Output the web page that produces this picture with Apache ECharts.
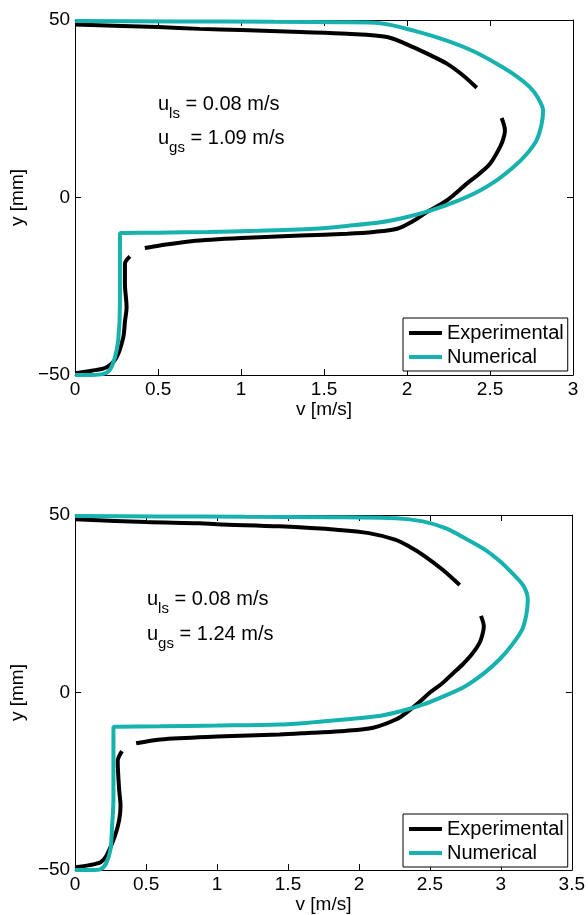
<!DOCTYPE html>
<html>
<head>
<meta charset="utf-8">
<script src="https://cdn.jsdelivr.net/npm/echarts@6/dist/echarts.min.js"></script>
<style>
  html, body { margin: 0; padding: 0; background: #fff; }
  #main { width: 588px; height: 915px; }
</style>
</head>
<body>
<div id="main"></div>
<script>
// top panel: u_gs = 1.09 m/s
var numTopV = [0, 0.10, 0.17, 0.21, 0.24, 0.26, 0.27, 0.27, 0.27, 0.27, 0.29, 0.5, 0.8, 1.1, 1.44, 1.64, 1.84, 2.0, 2.14, 2.30, 2.44, 2.55, 2.64, 2.72, 2.78, 2.81, 2.82, 2.79, 2.74, 2.65, 2.54, 2.40, 2.24, 2.04, 1.84, 1.6, 1.2, 0.6, 0];
var numTopY = [-50, -50, -49.7, -48.5, -45, -40, -30, -20, -11, -10, -10, -9.9, -9.7, -9.4, -8.8, -8.0, -7.0, -5.5, -3.7, -1.0, 2.0, 5.2, 8.5, 12.2, 16.1, 20.5, 24.5, 28, 31.1, 34.5, 37.7, 41.2, 44.2, 47.0, 49.1, 49.4, 49.5, 49.6, 49.7];

var expTopUpperV = [0, 0.5, 0.75, 1.0, 1.36, 1.64, 1.88, 2.04, 2.14, 2.24, 2.34, 2.42];
var expTopUpperY = [48.7, 48.0, 47.5, 47.2, 46.6, 46.1, 45.2, 42.3, 40.1, 37.7, 34.3, 30.9];
var expTopRightV = [2.57, 2.59, 2.58, 2.56, 2.50, 2.43, 2.36, 2.24, 2.12, 2.03, 1.94, 1.80, 1.64, 1.36, 1.0, 0.7, 0.51, 0.42];
var expTopRightY = [22.4, 18.9, 16.5, 14.2, 9.5, 6.5, 3.9, -0.8, -4.1, -6.8, -8.8, -9.7, -10.2, -10.7, -11.4, -12.3, -13.5, -14.2];
var expTopLowerV = [0.33, 0.30, 0.30, 0.31, 0.30, 0.29, 0.25, 0.19, 0.1, 0];
var expTopLowerY = [-16.6, -18.7, -24.3, -30.9, -35, -39.4, -45.0, -47.8, -48.8, -49.5];

// bottom panel: u_gs = 1.24 m/s
var numBotV = [0, 0.10, 0.18, 0.22, 0.25, 0.26, 0.27, 0.27, 0.27, 0.27, 0.29, 0.6, 1.0, 1.44, 1.67, 1.9, 2.14, 2.30, 2.45, 2.60, 2.75, 2.88, 2.99, 3.08, 3.15, 3.18, 3.19, 3.16, 3.08, 2.99, 2.89, 2.75, 2.61, 2.45, 2.26, 1.8, 1.2, 0.6, 0];
var numBotY = [-50, -50, -49.7, -48, -44, -38, -30, -20, -10.6, -9.6, -9.6, -9.5, -9.3, -9.0, -8.4, -7.6, -6.6, -5.2, -3.4, -1.0, 1.8, 5.4, 9.3, 13.5, 17.7, 22, 26.1, 30, 33.6, 37.1, 40.2, 43.4, 46.3, 48.2, 49.1, 49.4, 49.5, 49.6, 49.7];

var expBotUpperV = [0, 0.5, 0.88, 1.0, 1.44, 1.86, 2.07, 2.26, 2.36, 2.45, 2.59, 2.71];
var expBotUpperY = [48.8, 48.0, 47.7, 47.4, 46.8, 45.8, 44.9, 43.0, 41.0, 38.8, 34.6, 30.3];
var expBotRightV = [2.86, 2.88, 2.87, 2.85, 2.80, 2.73, 2.66, 2.59, 2.50, 2.42, 2.34, 2.26, 2.10, 1.90, 1.67, 1.44, 1.0, 0.60, 0.43];
var expBotRightY = [21.6, 18.6, 16.3, 14.0, 11.0, 7.9, 5.3, 2.7, 0, -2.9, -5.5, -7.6, -9.9, -10.8, -11.3, -11.8, -12.4, -13.2, -14.3];
var expBotLowerV = [0.33, 0.30, 0.31, 0.32, 0.31, 0.28, 0.22, 0.18, 0.1, 0];
var expBotLowerY = [-16.5, -19.3, -27.2, -31.9, -36, -40.4, -46, -47.8, -48.6, -49.2];

var xMaxTop = 3, xMaxBot = 3.5;
var yTicks = [-50, 0, 50];
var topLabels = ['u', 'ls', ' = 0.08 m/s', 'u', 'gs', ' = 1.09 m/s'];
var botLabels = ['u', 'ls', ' = 0.08 m/s', 'u', 'gs', ' = 1.24 m/s'];

var FONT = '"Liberation Sans", Arial, Helvetica, sans-serif';
var TEAL = '#17b1ae';

function pairs(xs, ys) {
  return xs.map(function (x, i) { return [x, ys[i]]; });
}
function minusFmt(v) { return String(v).replace('-', '\u2212'); }

function xAx(gi, max, top) {
  return {
    type: 'value', gridIndex: gi, min: 0, max: max, interval: 0.5,
    position: top ? 'top' : 'bottom',
    name: top ? '' : 'v [m/s]', nameLocation: 'middle', nameGap: 22,
    nameTextStyle: { fontFamily: FONT, fontSize: 19, color: '#000' },
    axisLine: { show: true, onZero: false, lineStyle: { color: '#000', width: 1 } },
    axisTick: { show: true, inside: true, length: 6, lineStyle: { color: '#000' } },
    axisLabel: { show: !top, margin: 5, fontFamily: FONT, fontSize: 19, color: '#000', formatter: minusFmt },
    splitLine: { show: false }
  };
}
function yAx(gi, right) {
  return {
    type: 'value', gridIndex: gi, min: yTicks[0], max: yTicks[2], interval: 50,
    position: right ? 'right' : 'left',
    name: right ? '' : 'y [mm]', nameLocation: 'middle', nameGap: 35, nameRotate: 90,
    nameTextStyle: { fontFamily: FONT, fontSize: 19, color: '#000' },
    axisLine: { show: true, onZero: false, lineStyle: { color: '#000', width: 1 } },
    axisTick: { show: true, inside: true, length: 6, lineStyle: { color: '#000' } },
    axisLabel: { show: !right, margin: 5, fontFamily: FONT, fontSize: 19, color: '#000', formatter: minusFmt },
    splitLine: { show: false }
  };
}
function line(name, data, xi, yi, color) {
  return {
    name: name, type: 'line', data: data, xAxisIndex: xi, yAxisIndex: yi,
    showSymbol: false, symbol: 'none', color: color, smooth: 0.3,
    lineStyle: { width: 4, color: color }, z: name === 'Numerical' ? 3 : 2
  };
}
function legend(top) {
  return {
    left: 403, top: top, orient: 'vertical',
    data: ['Experimental', 'Numerical'],
    icon: 'rect', itemWidth: 33, itemHeight: 4, itemGap: 4,
    padding: [5, 4, 4, 6],
    borderColor: '#000', borderWidth: 1, backgroundColor: '#fff',
    textStyle: { fontFamily: FONT, fontSize: 20, lineHeight: 20, color: '#000', padding: [0, 0, 0, 0] }
  };
}
var rich = {
  m: { fontFamily: FONT, fontSize: 20, lineHeight: 24, verticalAlign: 'top', fill: '#000', color: '#000' },
  s: { fontFamily: FONT, fontSize: 15, lineHeight: 18, padding: [12, 0, 0, 0], verticalAlign: 'top', fill: '#000', color: '#000' }
};
function note(x, y, parts) {
  return {
    type: 'text', x: x, y: y,
    style: { text: '{m|' + parts[0] + '}{s|' + parts[1] + '}{m|' + parts[2] + '}', rich: rich, fill: '#000' }
  };
}

var chart = echarts.init(document.getElementById('main'), null, { renderer: 'canvas' });
chart.setOption({
  animation: false,
  backgroundColor: '#fff',
  grid: [
    { left: 75, top: 20, width: 498, height: 355 },
    { left: 75, top: 515, width: 498, height: 356 }
  ],
  xAxis: [xAx(0, xMaxTop, false), xAx(0, xMaxTop, true), xAx(1, xMaxBot, false), xAx(1, xMaxBot, true)],
  yAxis: [yAx(0, false), yAx(0, true), yAx(1, false), yAx(1, true)],
  legend: [legend(318), legend(814)],
  series: [
    line('Experimental', pairs(expTopUpperV, expTopUpperY), 0, 0, '#000'),
    line('Experimental', pairs(expTopRightV, expTopRightY), 0, 0, '#000'),
    line('Experimental', pairs(expTopLowerV, expTopLowerY), 0, 0, '#000'),
    line('Numerical', pairs(numTopV, numTopY), 0, 0, TEAL),
    line('Experimental', pairs(expBotUpperV, expBotUpperY), 2, 2, '#000'),
    line('Experimental', pairs(expBotRightV, expBotRightY), 2, 2, '#000'),
    line('Experimental', pairs(expBotLowerV, expBotLowerY), 2, 2, '#000'),
    line('Numerical', pairs(numBotV, numBotY), 2, 2, TEAL)
  ],
  graphic: [
    note(158, 94, topLabels.slice(0, 3)),
    note(158, 128, topLabels.slice(3, 6)),
    note(147, 589, botLabels.slice(0, 3)),
    note(147, 624, botLabels.slice(3, 6))
  ]
});
</script>
</body>
</html>
